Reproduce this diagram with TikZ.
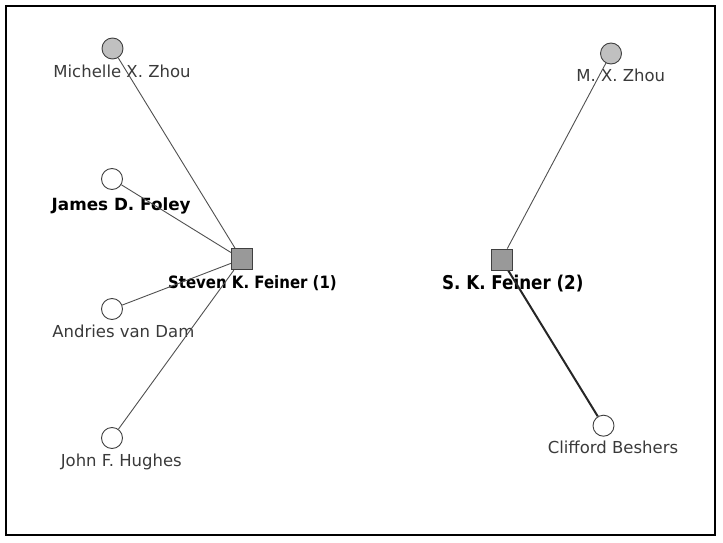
\documentclass[tikz,border=0pt]{standalone}
\usepackage{fontspec}
\setmainfont{DejaVu Sans}
\newfontfamily\narrowsans[FakeStretch=0.88]{DejaVu Sans}
\pgfdeclarelayer{labels}
\pgfdeclarelayer{edges}
\pgfsetlayers{labels,edges,main}
\definecolor{nodegray}{HTML}{C0C0C0}
\definecolor{boxgray}{HTML}{999999}
\definecolor{outline}{HTML}{404040}
\definecolor{edgecol}{HTML}{505050}
\definecolor{labcol}{HTML}{3A3A3A}
\tikzset{
  person/.style={circle, draw=outline, line width=0.9pt, fill=white, minimum size=21pt, inner sep=0pt},
  grayperson/.style={person, fill=nodegray},
  author/.style={rectangle, draw=outline, line width=0.9pt, fill=boxgray, minimum size=21pt, inner sep=0pt},
  lab/.style={anchor=base, inner sep=0pt, text=labcol, font=\fontsize{16.5}{18}\selectfont},
  blab/.style={anchor=base, inner sep=0pt, text=black},
  link/.style={draw=edgecol, line width=0.9pt},
  strong/.style={draw=black!85, line width=2pt},
}
\begin{document}
\begin{tikzpicture}[x=1pt,y=-1pt]
\useasboundingbox (0,0) rectangle (723,543);
\draw[line width=2pt] (6,6) rectangle (715,535);
% shapes
\node[grayperson] (mz) at (112.5,48.5) {};
\node[person] (jf) at (112,179) {};
\node[person] (ad) at (112,309) {};
\node[person] (jh) at (112,438) {};
\node[author] (sf1) at (241.8,259.2) {};
\node[author] (sf2) at (501.5,259.5) {};
\node[grayperson] (mxz) at (611,53.5) {};
\node[person] (cb) at (603.5,425.7) {};
% labels
\begin{pgfonlayer}{labels}
\node[lab] (lmz) at (122,77.3) {Michelle X. Zhou};
\node[blab, font=\bfseries\fontsize{16.8}{18}\selectfont] (ljf) at (121.2,210) {James D. Foley};
\node[lab] (lad) at (123.3,337.3) {Andries van Dam};
\node[lab] (ljh) at (121.3,466.7) {John F. Hughes};
\node[blab, font=\narrowsans\bfseries\fontsize{17}{18}\selectfont] (lsf1) at (252.5,288.3) {Steven K. Feiner (1)};
\node[blab, font=\narrowsans\bfseries\fontsize{19}{20}\selectfont] (lsf2) at (512.8,289.8) {S. K. Feiner (2)};
\node[lab] (lmxz) at (620.7,81.5) {M. X. Zhou};
\node[lab] (lcb) at (613,453.3) {Clifford Beshers};
\end{pgfonlayer}
% edges
\begin{pgfonlayer}{edges}
\draw[link] (mz) -- (sf1);
\draw[link] (jf) -- (sf1);
\draw[link] (ad) -- (sf1);
\draw[link] (jh) -- (sf1);
\draw[link] (mxz) -- (sf2);
\draw[strong] (cb) -- (sf2);
\end{pgfonlayer}
\end{tikzpicture}
\end{document}
